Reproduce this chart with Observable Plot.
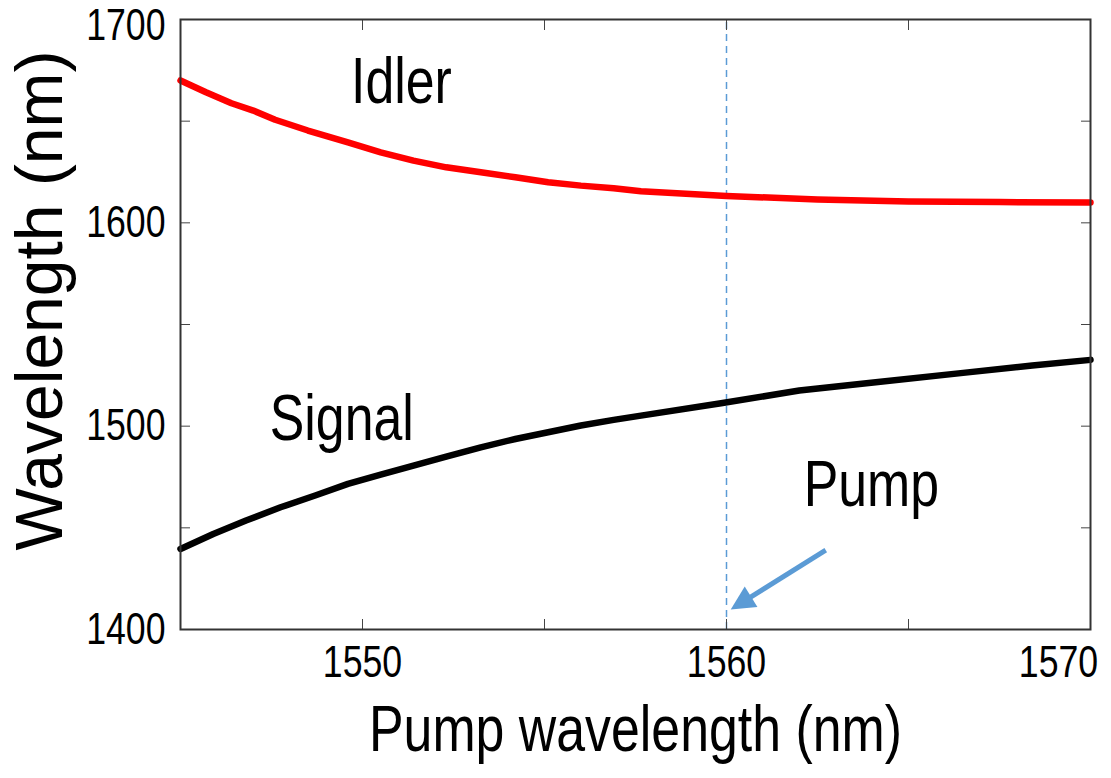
<!DOCTYPE html>
<html><head><meta charset="utf-8">
<script src="https://cdn.jsdelivr.net/npm/d3@7"></script>
<script src="https://cdn.jsdelivr.net/npm/@observablehq/plot@0.6"></script>
<style>
  html,body{margin:0;padding:0;background:#fff}
  #chart svg{display:block}
</style>
</head><body><div id="chart"></div>
<script>
// Idler wavelength vs pump wavelength (nm)
const idlerPump = [1545, 1545.7, 1546.4, 1547.0, 1547.6, 1548.5, 1549.6, 1550.5, 1551.4, 1552.3, 1553.25, 1554.2, 1555.1, 1556.0, 1556.9, 1557.65, 1560, 1562.5, 1565, 1567.5, 1570];
const idlerWl   = [1670, 1664.2, 1658.8, 1655.2, 1650.7, 1645.4, 1639.6, 1634.7, 1630.6, 1627.3, 1624.9, 1622.4, 1620.0, 1618.3, 1617.0, 1615.5, 1613.2, 1611.5, 1610.5, 1610.2, 1610];
// Signal wavelength vs pump wavelength (nm)
const signalPump = [1545, 1545.9, 1546.8, 1547.75, 1548.7, 1549.6, 1550.5, 1551.4, 1552.3, 1553.25, 1554.2, 1555.1, 1556.0, 1556.9, 1557.65, 1559.85, 1562.0, 1564.1, 1566.5, 1568.4, 1570];
const signalWl   = [1439.6, 1447.0, 1453.6, 1460.1, 1465.9, 1471.6, 1476.2, 1480.6, 1485.0, 1489.6, 1493.7, 1497.0, 1500.3, 1503.1, 1505.2, 1511.3, 1517.5, 1521.6, 1526.2, 1529.8, 1532.6];

const xTicks  = [1545, 1550, 1555, 1560, 1565, 1570];
const xLabels = [1550, 1560];
const xLabelEnd = [1570];
const yTicks  = [1400, 1450, 1500, 1550, 1600, 1650, 1700];
const yLabels = [1400, 1500, 1600];
const yLabelTop = [1700];

const pumpLine = [1560];
const curveLabels = ["Idler", "Signal", "Pump"];
const curveLabelX = [1551.07, 1549.43, 1563.98];
const curveLabelY = [1669, 1503.2, 1470.8];
const arrowTail = [1562.74, 1438.8];
const arrowTip  = [1560.13, 1409.6];

const xTitle = "Pump wavelength (nm)";
const yTitle = "Wavelength (nm)";

const blue = "#5B9BD5";
const font = "'Liberation Sans', Arial, sans-serif";

const idler = idlerPump.map((p, i) => ({p, w: idlerWl[i]}));
const signal = signalPump.map((p, i) => ({p, w: signalWl[i]}));
const labels = curveLabels.map((t, i) => ({t, x: curveLabelX[i], y: curveLabelY[i]}));

function pumpArrow(index, scales) {
  const x = scales.x, y = scales.y;
  const tx = x(arrowTail[0]), ty = y(arrowTail[1]);
  const hx = x(arrowTip[0]), hy = y(arrowTip[1]);
  const dx = hx - tx, dy = hy - ty, len = Math.hypot(dx, dy);
  const ux = dx / len, uy = dy / len;
  const headLen = 24, half = 12;
  const bx = hx - ux * headLen, by = hy - uy * headLen;
  const g = d3.create("svg:g");
  g.append("line").attr("x1", tx).attr("y1", ty).attr("x2", bx + ux * 2).attr("y2", by + uy * 2)
    .attr("stroke", blue).attr("stroke-width", 5);
  g.append("path")
    .attr("d", `M${hx},${hy}L${bx - uy * half},${by + ux * half}L${bx + uy * half},${by - ux * half}Z`)
    .attr("fill", blue);
  return g.node();
}

const tickLabelStyle = {tickSize: 0, fontSize: 44, fill: "#000", label: null, tickFormat: d => String(d)};

const chart = Plot.plot({
  width: 1111,
  height: 778,
  marginLeft: 180,
  marginRight: 21,
  marginTop: 19,
  marginBottom: 149,
  style: {fontFamily: font, background: "#fff", color: "#000", overflow: "visible"},
  x: {domain: [1545, 1570]},
  y: {domain: [1400, 1700]},
  marks: [
    Plot.ruleX(pumpLine, {x: d => d, y1: 1400, y2: 1700, stroke: blue, strokeWidth: 1.5, strokeDasharray: "7,5"}),
    Plot.line(idler, {x: "p", y: "w", stroke: "#ff0000", strokeWidth: 6.5}),
    Plot.line(signal, {x: "p", y: "w", stroke: "#000", strokeWidth: 6.5}),
    pumpArrow,
    Plot.text(labels, {x: "x", y: "y", text: "t", fontSize: 64, fill: "#000", textAnchor: "middle", lineAnchor: "middle"}),
    // inward ticks on all four sides
    Plot.axisX(xTicks, {anchor: "bottom", tickSize: -10, tickFormat: () => "", stroke: "#444", label: null}),
    Plot.axisX(xTicks, {anchor: "top", tickSize: -10, tickFormat: () => "", stroke: "#444", label: null}),
    Plot.axisY(yTicks, {anchor: "left", tickSize: -10, tickFormat: () => "", stroke: "#444", label: null}),
    Plot.axisY(yTicks, {anchor: "right", tickSize: -10, tickFormat: () => "", stroke: "#444", label: null}),
    // tick labels
    Plot.axisX(xLabels, {anchor: "bottom", tickPadding: 16, ...tickLabelStyle}),
    Plot.axisX(xLabelEnd, {anchor: "bottom", tickPadding: 16, dx: -32, ...tickLabelStyle}),
    Plot.axisY(yLabels, {anchor: "left", tickPadding: 15, ...tickLabelStyle}),
    Plot.axisY(yLabelTop, {anchor: "left", tickPadding: 15, dy: 6, ...tickLabelStyle}),
    Plot.frame({stroke: "#333", strokeWidth: 2}),
    // axis titles
    Plot.text([xTitle], {frameAnchor: "bottom", text: d => d, dy: 121, textAnchor: "middle", lineAnchor: "bottom", fontSize: 64, fill: "#000"}),
    Plot.text([yTitle], {frameAnchor: "left", text: d => d, rotate: -90, dx: -140, dy: -24, textAnchor: "middle", lineAnchor: "middle", fontSize: 66, fill: "#000"})
  ]
});
document.getElementById("chart").append(chart);

// the original uses a condensed Arial-like face: narrow the horizontal texts
chart.querySelectorAll("text").forEach(t => {
  if (t.textContent === yTitle) return;
  const len = t.getComputedTextLength();
  if (len > 0) {
    t.setAttribute("textLength", (len * 0.81).toFixed(1));
    t.setAttribute("lengthAdjust", "spacingAndGlyphs");
  }
});
</script>
</body></html>
